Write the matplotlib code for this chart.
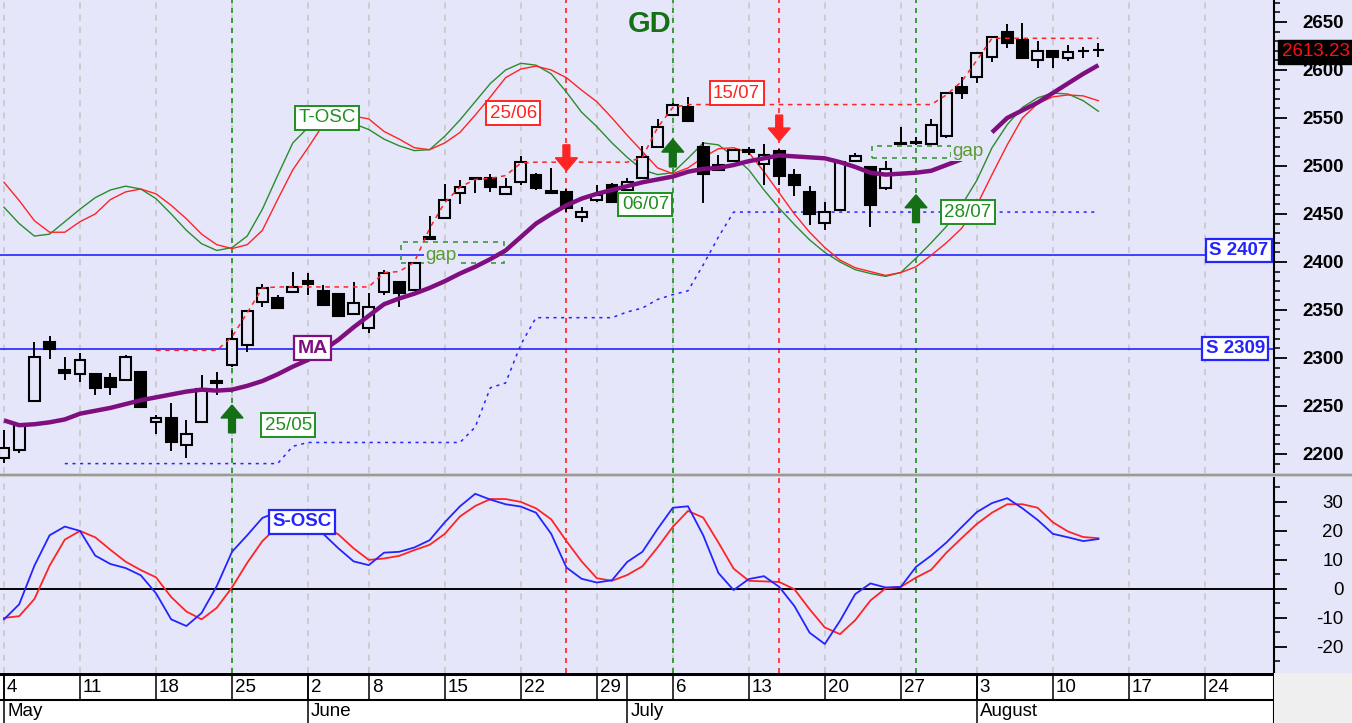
import numpy as np
import matplotlib
matplotlib.use('Agg')
import matplotlib.pyplot as plt
from matplotlib.patches import Rectangle, FancyArrow
from matplotlib.lines import Line2D
from matplotlib import font_manager as fm

nan = np.nan

# ---------------- data ----------------
day_labels = ['4', '11', '18', '25', '2', '8', '15', '22', '29', '6', '13', '20', '27', '3', '10', '17', '24']
day_label_idx = [0, 5, 10, 15, 20, 24, 29, 34, 39, 44, 49, 54, 59, 64, 69, 74, 79]
months = ['May', 'June', 'July', 'August']
month_start_idx = [0, 20, 41, 64]

opens = [2196, 2204, 2255, 2317, 2287, 2283, 2283, 2279, 2277, 2285,
         2233, 2237, 2209, 2233, 2276, 2293, 2314, 2358, 2362, 2369,
         2380, 2370, 2367, 2346, 2331, 2369, 2379, 2371, 2426, 2446,
         2472, 2488, 2488, 2471, 2483, 2491, 2472, 2473, 2447, 2465,
         2480, 2475, 2487, 2520, 2553, 2561, 2520, 2501, 2505, 2517,
         2502, 2516, 2491, 2473, 2441, 2454, 2505, 2499, 2477, 2524,
         2525, 2523, 2531, 2582, 2593, 2614, 2640, 2631, 2610, 2620,
         2612, 2620, 2621]
highs = [2225, 2232, 2317, 2323, 2301, 2305, 2284, 2284, 2303, 2286,
         2241, 2253, 2235, 2282, 2285, 2329, 2350, 2377, 2366, 2390,
         2389, 2376, 2368, 2379, 2368, 2392, 2380, 2400, 2448, 2481,
         2485, 2489, 2492, 2488, 2510, 2493, 2498, 2476, 2457, 2480,
         2482, 2487, 2521, 2549, 2566, 2572, 2525, 2511, 2518, 2520,
         2523, 2518, 2497, 2479, 2462, 2505, 2514, 2500, 2505, 2541,
         2530, 2549, 2577, 2593, 2619, 2635, 2648, 2649, 2630, 2621,
         2626, 2624, 2628]
lows = [2191, 2201, 2254, 2299, 2277, 2275, 2261, 2261, 2276, 2248,
        2221, 2203, 2196, 2232, 2261, 2291, 2306, 2353, 2351, 2368,
        2366, 2354, 2343, 2345, 2326, 2366, 2353, 2370, 2423, 2445,
        2460, 2472, 2473, 2470, 2480, 2475, 2471, 2452, 2442, 2462,
        2461, 2474, 2486, 2519, 2552, 2546, 2461, 2495, 2504, 2511,
        2480, 2480, 2469, 2439, 2433, 2453, 2504, 2436, 2475, 2522,
        2522, 2522, 2529, 2570, 2586, 2608, 2623, 2611, 2602, 2602,
        2609, 2612, 2614]
closes = [2206, 2230, 2301, 2309, 2284, 2298, 2269, 2270, 2301, 2249,
          2237, 2212, 2221, 2268, 2274, 2320, 2349, 2373, 2352, 2374,
          2377, 2355, 2344, 2357, 2353, 2389, 2368, 2399, 2424, 2465,
          2478, 2486, 2478, 2478, 2504, 2477, 2474, 2456, 2452, 2470,
          2462, 2483, 2509, 2541, 2564, 2547, 2492, 2496, 2517, 2515,
          2511, 2490, 2480, 2450, 2452, 2504, 2510, 2459, 2497, 2523,
          2524, 2543, 2576, 2576, 2618, 2634, 2628, 2612, 2620, 2614,
          2619, 2620, 2621]

ma = [2235, 2230, 2231, 2233, 2236, 2242, 2245, 2248, 2252, 2256,
      2259, 2262, 2265, 2267, 2266, 2267, 2271, 2276, 2283, 2291,
      2298, 2308, 2319, 2332, 2344, 2356, 2362, 2367, 2373, 2380,
      2388, 2395, 2403, 2412, 2426, 2440, 2450, 2459, 2466, 2471,
      2475, 2479, 2483, 2486, 2489, 2494, 2497, 2498, 2501, 2505,
      2508, 2511, 2510, 2509, 2508, 2504, 2499, 2493, 2491, 2492,
      2493, 2495, 2501, 2507, nan, 2535, 2550, 2558, 2566, 2576,
      2586, 2596, 2605]

tosc_green = [2457, 2440, 2427, 2429, 2442, 2455, 2467, 2475, 2479, 2476,
              2466, 2450, 2433, 2419, 2412, 2415, 2427, 2455, 2490, 2524,
              2540, 2546, 2548, 2544, 2538, 2528, 2521, 2516, 2517, 2531,
              2548, 2567, 2586, 2600, 2607, 2605, 2596, 2577, 2556, 2541,
              2524, 2509, 2496, 2491, 2493, 2508, 2524, 2522, 2510, 2496,
              2475, 2456, 2439, 2423, 2410, 2400, 2392, 2388, 2385, 2389,
              2404, 2420, 2437, 2459, 2485, 2519, 2543, 2561, 2571, 2576,
              2575, 2568, 2557]
tosc_red = [2483, 2464, 2443, 2431, 2431, 2442, 2450, 2465, 2473, 2476,
            2471, 2459, 2445, 2429, 2418, 2414, 2418, 2433, 2465, 2496,
            2519, 2543, 2550, 2552, 2549, 2536, 2528, 2519, 2517, 2524,
            2535, 2553, 2572, 2592, 2601, 2604, 2600, 2592, 2579, 2567,
            2550, 2532, 2515, 2498, 2492, 2498, 2509, 2518, 2519, 2514,
            2494, 2472, 2450, 2431, 2415, 2402, 2394, 2390, 2386, 2389,
            2395, 2407, 2420, 2435, 2459, 2491, 2522, 2550, 2565, 2572,
            2574, 2573, 2568]

resist = [nan, nan, nan, nan, nan, nan, nan, nan, nan, nan,
          2308, 2308, 2308, 2308, 2308, 2322, 2347, 2373, 2374, 2374,
          2374, 2374, 2374, 2374, 2374, 2389, 2390, 2400, 2435, 2462,
          2478, 2486, 2487, 2490, 2503, 2504, 2504, 2504, 2504, 2504,
          2504, 2504, 2509, 2540, 2561, 2564, 2564, 2564, 2564, 2564,
          2564, 2564, 2564, 2564, 2564, 2564, 2564, 2564, 2564, 2564,
          2564, 2564, 2574, 2588, 2610, 2633, 2633, 2633, 2633, 2633,
          2633, 2633, 2633]
support = [nan, nan, nan, nan, 2190, 2190, 2190, 2190, 2190, 2190,
           2190, 2190, 2190, 2190, 2190, 2190, 2190, 2190, 2190, 2208,
           2212, 2212, 2212, 2212, 2212, 2212, 2212, 2212, 2212, 2212,
           2212, 2228, 2269, 2274, 2314, 2342, 2342, 2342, 2342, 2342,
           2342, 2348, 2352, 2361, 2366, 2370, 2397, 2426, 2452, 2452,
           2452, 2452, 2452, 2452, 2452, 2452, 2452, 2452, 2452, 2452,
           2452, 2452, 2452, 2452, 2452, 2452, 2452, 2452, 2452, 2452,
           2452, 2452, 2452]

sosc_blue = [-10.5, -5.3, 8, 18.5, 21.5, 20, 11.5, 8.6, 7.2, 4.7,
             -1.5, -10.5, -12.8, -8.3, 1, 12.8, 18.5, 24.5, 26.5, 25,
             22.5, 19, 14, 9.5, 8.2, 12.5, 12.8, 14.3, 16.8, 23,
             28.5, 32.8, 30.8, 29.2, 28.4, 26.3, 19, 7.4, 3.5, 2.2,
             3, 9.3, 12.8, 20.7, 28, 28.5, 18.5, 5.5, -0.4, 3.4,
             4.4, 0.7, -5.9, -15.1, -19, -11, -1.8, 1.9, 0.5, 0.7,
             7.6, 11.5, 16, 21.3, 26.5, 29.6, 31.3, 27.8, 23.8, 19,
             17.8, 16.5, 17.2]
sosc_red = [-10, -9.4, -3.5, 8, 17, 20, 17.8, 13.5, 9.4, 6.5,
            4, -2.8, -7.8, -10.5, -6.5, 0.5, 9, 16.5, 21.5, 23.5,
            23, 21.5, 18.8, 14, 10, 10.5, 11.4, 13.4, 15.2, 19,
            25, 28.6, 31, 31, 30, 27.8, 24, 16.5, 9.5, 3.7,
            2.8, 4.8, 7.8, 14.3, 21.4, 26.9, 24.6, 16, 7, 2.8,
            2.6, 2.4, -0.1, -7, -13.3, -15.6, -10.8, -4, 0.2, 0.7,
            3.9, 6.6, 12.5, 17.5, 22.4, 26.3, 29.2, 29.2, 28, 23,
            19.8, 17.9, 17.5]

support_levels = [2407, 2309]
buy_signals = [15, 44, 60]       # day index
sell_signals = [37, 51]
signal_labels = [('25/05', 18.7, 2230, 'g'), ('25/06', 33.5, 2555, 'r'),
                 ('06/07', 42.2, 2460, 'g'), ('15/07', 48.2, 2576, 'r'),
                 ('28/07', 63.4, 2452, 'g')]
gaps = [(26.1, 32.9, 2399, 2421), (57.1, 62.3, 2508, 2521)]
last_price = 2613.23

# ---------------- style ----------------
def pick(names):
    for n in names:
        try:
            fm.findfont(fm.FontProperties(family=n), fallback_to_default=False)
            return n
        except Exception:
            pass
    return 'DejaVu Sans'

FONT = pick(['Liberation Sans', 'Arial', 'DejaVu Sans'])
NARROW = pick(['Liberation Sans Narrow', 'Liberation Sans', 'DejaVu Sans'])
plt.rcParams['font.family'] = [FONT, 'DejaVu Sans']
plt.rcParams['axes.unicode_minus'] = False

BG = '#e6e6fa'
GREEN = '#1f8f1f'
DGREEN = '#157015'
RED = '#ff2424'
BLUE = '#2424ff'
PURPLE = '#7f0f7f'
GRID = '#c4c4c4'

W, H = 1352, 723
fig = plt.figure(figsize=(W / 100, H / 100), dpi=100, facecolor=BG)

def fy(py):
    return 1 - py / H

XR = 1274
ax = fig.add_axes([0, fy(473), XR / W, 473 / H])
ax2 = fig.add_axes([0, fy(673), XR / W, (673 - 477) / H])
axl = fig.add_axes([0, 0, XR / W, 50 / H])

xlim = (-4 / 15.2, (XR - 4) / 15.2)
n = len(closes)
idx = np.arange(n)

for a in (ax, ax2):
    a.set_facecolor(BG)
    a.set_xlim(*xlim)
    for s in ('left', 'top', 'bottom'):
        a.spines[s].set_visible(False)
    a.spines['right'].set_color('black')
    a.spines['right'].set_linewidth(1.5)
    a.set_xticks([])
    a.yaxis.tick_right()
    a.tick_params(axis='y', which='major', length=9, width=1.3, direction='out',
                  pad=41, labelsize=13.5, colors='black')
    a.tick_params(axis='y', which='minor', length=4.5, width=1.1, direction='out')
    for k in day_label_idx:
        a.axvline(k, color=GRID, lw=1.1, ls=(0, (4, 4)), zorder=1)
    for k in buy_signals:
        a.axvline(k, color=GREEN, lw=1.2, ls=(0, (3, 3)), zorder=1.5)
    for k in sell_signals:
        a.axvline(k, color=RED, lw=1.2, ls=(0, (3, 3)), zorder=1.5)

# ---------------- top panel ----------------
ax.set_ylim(2180.2, 2672.9)
ax.set_yticks(np.arange(2200, 2651, 50))
ax.set_yticks(np.arange(2190, 2671, 10), minor=True)
for lab in ax.get_yticklabels():
    lab.set_horizontalalignment('right')
    lab.set_fontweight('bold')

ax.plot(idx, tosc_green, color='#2a8c2a', lw=1.0, zorder=2)
ax.plot(idx, tosc_red, color=RED, lw=1.0, zorder=2.1)

for lvl in support_levels:
    ax.axhline(lvl, color=BLUE, lw=1.2, zorder=2)

ax.plot(idx, support, color=BLUE, lw=1.1, ls=(0, (2, 3)), zorder=2.2)

for (x0, x1, y0, y1) in gaps:
    ax.add_patch(Rectangle((x0, y0), x1 - x0, y1 - y0, fill=False, ec='#3a9a3a',
                           lw=1.2, ls=(0, (3, 3)), zorder=2.3))

o = np.array(opens, float); c = np.array(closes, float)
hi = np.array(highs, float); lo = np.array(lows, float)
ax.vlines(idx, lo, hi, color='black', lw=1.4, zorder=3)
bull = c >= o
ax.bar(idx[bull], (c - o)[bull], bottom=o[bull], width=0.72, color=BG,
       edgecolor='black', linewidth=1.5, zorder=3.1)
ax.bar(idx[~bull], (o - c)[~bull], bottom=c[~bull], width=0.72, color='black',
       edgecolor='black', linewidth=1.5, zorder=3.1)

ax.plot(idx, resist, color=RED, lw=1.1, ls=(0, (3, 3)), zorder=3.5)
ax.plot(idx, ma, color=PURPLE, lw=3.2, zorder=4, solid_capstyle='butt')

for k, y0 in zip(buy_signals, [2222, 2499, 2441]):
    ax.add_patch(FancyArrow(k, y0, 0, 29, width=0.45, head_width=1.45, head_length=13.5,
                            length_includes_head=True, color=DGREEN, zorder=5))
for k, y0 in zip(sell_signals, [2522, 2553]):
    ax.add_patch(FancyArrow(k, y0, 0, -27, width=0.45, head_width=1.45, head_length=13.5,
                            length_includes_head=True, color=RED, zorder=5))

def boxed(a, x, y, s, color, fs=13.5, weight='normal', pad=0.18, lw=1.4):
    a.text(x, y, s, color=color, fontsize=fs, fontweight=weight, ha='center', va='center',
           zorder=7, bbox=dict(boxstyle='square,pad=%.2f' % pad, fc='white', ec=color, lw=lw))

for s, x, y, col in signal_labels:
    boxed(ax, x, y, s, GREEN if col == 'g' else RED)
boxed(ax, 21.25, 2550, 'T-OSC', GREEN)
boxed(ax, 20.3, 2310, 'MA', PURPLE, fs=14, weight='bold', lw=1.6)
boxed(ax, 81.25, 2412, 'S 2407', BLUE, weight='bold', lw=1.6)
boxed(ax, 81.0, 2310, 'S 2309', BLUE, weight='bold', lw=1.6)

ax.text(28.75, 2407, 'gap', color='#5a9a30', fontsize=13.5, ha='center', va='center',
        zorder=6, bbox=dict(boxstyle='square,pad=0.05', fc=BG, ec='none'))
ax.text(63.4, 2515, 'gap', color='#5a9a30', fontsize=13.5, ha='center', va='center',
        zorder=6, bbox=dict(boxstyle='square,pad=0.05', fc=BG, ec='none'))

ax.text(42.5, 2648, 'GD', color=DGREEN, fontsize=21, fontweight='bold', ha='center',
        va='center', zorder=7)

fig.text(1282 / W, fy(52), '%.2f' % last_price, color='#ff1010', fontsize=13.5,
         ha='left', va='center', zorder=10,
         bbox=dict(boxstyle='square,pad=0.2', fc='black', ec='black'))

# ---------------- bottom panel ----------------
ax2.set_ylim(-29.0, 38.6)
ax2.set_yticks(np.arange(-20, 31, 10))
ax2.set_yticks(np.arange(-25, 36, 5), minor=True)
for lab in ax2.get_yticklabels():
    lab.set_horizontalalignment('right')
ax2.axhline(0, color='black', lw=1.4, zorder=2)
ax2.plot(idx, sosc_red, color=RED, lw=1.3, zorder=3)
ax2.plot(idx, sosc_blue, color=BLUE, lw=1.3, zorder=3.1)
boxed(ax2, 19.6, 23.1, 'S-OSC', BLUE, weight='bold', lw=1.6)

# ---------------- panel separator / corner ----------------
fig.patches.append(Rectangle((0, fy(477)), 1, 4 / H, transform=fig.transFigure,
                             fc='#d0d0d0', ec='none', zorder=0))
fig.add_artist(Line2D([0, 1], [fy(474.5), fy(474.5)], transform=fig.transFigure,
                      color='#9a9a9a', lw=1.5))
fig.patches.append(Rectangle((XR / W, 0), 1 - XR / W, 50 / H, transform=fig.transFigure,
                             fc='#efefef', ec='none', zorder=0))

# ---------------- date label area ----------------
axl.set_xlim(*xlim)
axl.set_ylim(0, 50)
axl.set_facecolor('white')
axl.set_xticks([]); axl.set_yticks([])
for s in ('left', 'top', 'bottom'):
    axl.spines[s].set_visible(False)
axl.spines['right'].set_linewidth(1.5)
axl.axhline(49, color='black', lw=2.2)
axl.axhline(23, color='black', lw=1.5)
for k, s in zip(day_label_idx, day_labels):
    axl.plot([k, k], [23, 50], color='black', lw=1.1)
    axl.text(k + 0.2, 36, s, fontsize=13.5, family=[NARROW, 'DejaVu Sans'],
             ha='left', va='center', color='black')
for k, s in zip(month_start_idx, months):
    axl.plot([k, k], [0, 50], color='black', lw=1.1)
    axl.text(k + 0.2, 11, s, fontsize=13.5, family=[NARROW, 'DejaVu Sans'],
             ha='left', va='center', color='black')

fig.savefig('out.png', dpi=100, facecolor=BG)
